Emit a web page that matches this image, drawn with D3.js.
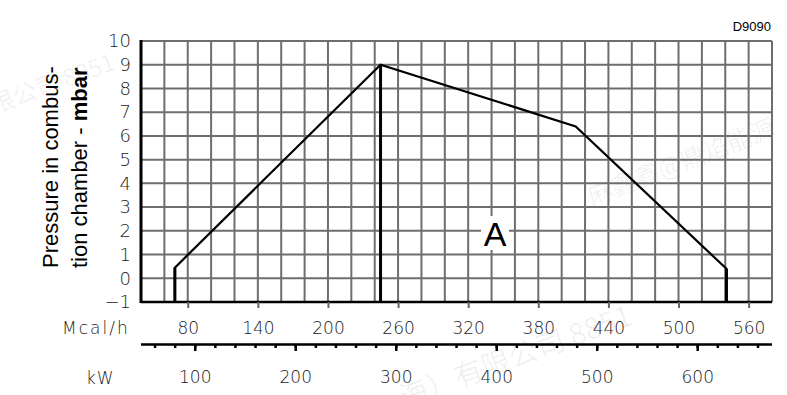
<!DOCTYPE html>
<html>
<head>
<meta charset="utf-8">
<script src="https://cdn.jsdelivr.net/npm/d3@7"></script>
<style>
  html, body { margin: 0; padding: 0; background: #fff; }
  svg { display: block; }
</style>
</head>
<body>
<svg id="chart" width="787" height="395"></svg>
<script>
// ---- data ----
const mcalTicks = [80, 140, 200, 260, 320, 380, 440, 500, 560];
const kwTicks = [100, 200, 300, 400, 500, 600];
const kwMinorTicks = d3.range(60, 661, 20);
const mbarTicks = [-1, 0, 1, 2, 3, 4, 5, 6, 7, 8, 9, 10];
const gridMcal = d3.range(40, 581, 20);
const curveMcal = [69, 69, 245, 412, 541, 541];
const curveMbar = [-1, 0.45, 9, 6.4, 0.4, -1];
const dividerMcal = [245, 245];
const dividerMbar = [-1, 9];
const MCAL_PER_KW = 0.86;

// ---- layout ----
const svg = d3.select("#chart");
const L = 141, R = 772, T = 41, B = 302;
const x = d3.scaleLinear().domain([40, 580]).range([L, R]);
const y = d3.scaleLinear().domain([-1, 10]).range([B, T]);
const xk = d3.scaleLinear().domain([40 / MCAL_PER_KW, 580 / MCAL_PER_KW]).range([L, R]);

const numFont = "'DejaVu Sans Light', 'DejaVu Sans', sans-serif";

// watermarks
const wm = svg.append("g").attr("fill", "#000").attr("fill-opacity", 0.06)
  .attr("font-family", "'Noto Sans CJK SC', sans-serif");
wm.append("text").attr("font-size", 24).attr("transform", "translate(-6,114) rotate(-20)").text("限公司 8851");
wm.append("text").attr("font-size", 25).attr("transform", "translate(592,206) rotate(-21)").text("麻鑫鑫@鼎焰能源");
wm.append("text").attr("font-size", 29).attr("transform", "translate(404,408) rotate(-20)").text("海）有限公司 8851");

// grid
const grid = svg.append("g").attr("stroke", "#6e6e6e").attr("stroke-width", 2);
grid.selectAll("line.v").data(gridMcal).join("line")
  .attr("x1", d => x(d)).attr("x2", d => x(d)).attr("y1", T).attr("y2", B);
grid.selectAll("line.h").data(mbarTicks.filter(d => d > -1)).join("line")
  .attr("x1", L).attr("x2", R).attr("y1", d => y(d)).attr("y2", d => y(d));

// "A" label with white background
svg.append("rect").attr("x", 481).attr("y", 216).attr("width", 28).attr("height", 34).attr("fill", "#fff");
svg.append("text").attr("x", 495).attr("y", 246).attr("text-anchor", "middle")
  .attr("font-family", "'Liberation Sans', Arial, sans-serif").attr("font-size", 34).text("A");

// frame: left and bottom
svg.append("line").attr("x1", L).attr("x2", L).attr("y1", T - 1).attr("y2", B + 1)
  .attr("stroke", "#000").attr("stroke-width", 3);
svg.append("line").attr("x1", L).attr("x2", R).attr("y1", B).attr("y2", B)
  .attr("stroke", "#000").attr("stroke-width", 2.5);

// curve
const line = d3.line().x(d => x(d[0])).y(d => y(d[1]));
svg.append("path").datum(d3.zip(curveMcal, curveMbar)).attr("d", line)
  .attr("fill", "none").attr("stroke", "#000").attr("stroke-width", 2.2).attr("stroke-linejoin", "miter");
svg.append("path").datum(d3.zip(curveMcal.slice(0, 2), curveMbar.slice(0, 2))).attr("d", line)
  .attr("fill", "none").attr("stroke", "#000").attr("stroke-width", 3);
svg.append("path").datum(d3.zip(curveMcal.slice(4), curveMbar.slice(4))).attr("d", line)
  .attr("fill", "none").attr("stroke", "#000").attr("stroke-width", 3);
svg.append("path").datum(d3.zip(dividerMcal, dividerMbar)).attr("d", line)
  .attr("fill", "none").attr("stroke", "#000").attr("stroke-width", 3);

// y axis labels
const yAxis = svg.append("g").attr("transform", `translate(${L},0)`)
  .call(d3.axisLeft(y).tickValues(mbarTicks).tickSize(0).tickPadding(10).tickFormat(d => d < 0 ? "\u22121" : d));
yAxis.select(".domain").remove();
yAxis.selectAll("text").attr("font-family", numFont).attr("font-size", 18).attr("fill", "#1a1a1a");

// Mcal/h axis
const mAxis = svg.append("g").attr("transform", `translate(0,${B})`)
  .call(d3.axisBottom(x).tickValues(mcalTicks).tickSize(6).tickPadding(14));
mAxis.select(".domain").remove();
mAxis.selectAll("line").attr("stroke", "#666").attr("stroke-width", 2);
mAxis.selectAll("text").attr("font-family", numFont).attr("font-size", 17).attr("fill", "#1a1a1a");

// kW axis
const KY = 344;
const kMinor = svg.append("g").attr("transform", `translate(0,${KY})`)
  .call(d3.axisBottom(xk).tickValues(kwMinorTicks).tickSize(4).tickFormat(""));
kMinor.select(".domain").remove();
kMinor.selectAll("line").attr("stroke", "#000").attr("stroke-width", 2.5);
const kAxis = svg.append("g").attr("transform", `translate(0,${KY})`)
  .call(d3.axisBottom(xk).tickValues(kwTicks).tickSize(7).tickSizeOuter(0).tickPadding(20));
kAxis.select(".domain").attr("stroke-width", 2.5).attr("d", `M${L},0.5H${R}`);
kAxis.selectAll("line").attr("stroke", "#000").attr("stroke-width", 2.5);
kAxis.selectAll("text").attr("font-family", numFont).attr("font-size", 17).attr("fill", "#1a1a1a");

// unit labels
svg.append("text").attr("x", 62).attr("y", 334).attr("letter-spacing", 2)
  .attr("font-family", numFont).attr("font-size", 17).attr("fill", "#1a1a1a").text("Mcal/h");
svg.append("text").attr("x", 86).attr("y", 384).attr("letter-spacing", 1)
  .attr("font-family", numFont).attr("font-size", 17).attr("fill", "#1a1a1a").text("kW");

// y title
const yt = svg.append("text").attr("transform", "translate(0,268) rotate(-90)")
  .attr("font-family", "'Liberation Sans', Arial, sans-serif").attr("font-size", 22).attr("fill", "#000");
yt.append("tspan").attr("x", 0).attr("y", 58).text("Pressure in combus-");
yt.append("tspan").attr("x", 0).attr("y", 87).text("tion chamber - ");
yt.append("tspan").attr("font-weight", "bold").text("mbar");

// code
svg.append("text").attr("x", 771).attr("y", 31).attr("text-anchor", "end")
  .attr("font-family", "'Liberation Sans', Arial, sans-serif").attr("font-size", 13).attr("fill", "#000").text("D9090");
</script>
</body>
</html>
